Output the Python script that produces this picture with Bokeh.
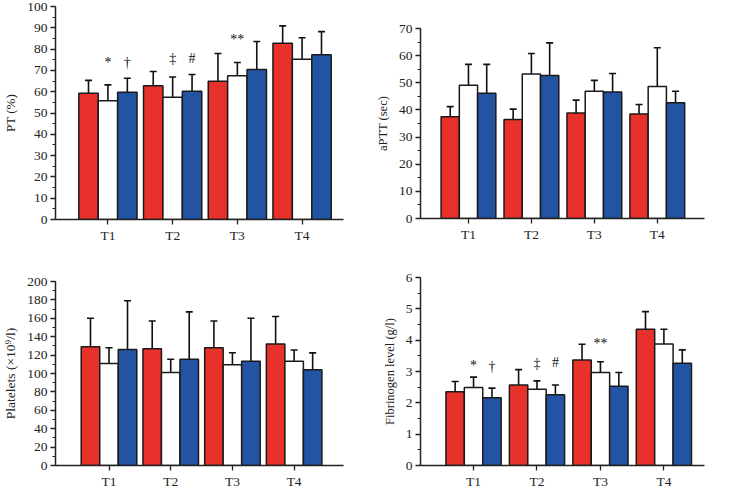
from bokeh.plotting import figure
from bokeh.layouts import column, row
from bokeh.models import (ColumnDataSource, Whisker, TeeHead, SingleIntervalTicker,
                          FixedTicker, Range1d)
from bokeh.embed import file_html
from bokeh.resources import INLINE
from bokeh.core.properties import value

categories = ["T1", "T2", "T3", "T4"]
groups = ["red", "white", "blue"]
colors = {"red": "#E8312B", "white": "#FFFFFF", "blue": "#2354A3"}

# PT (%)
pt_mean = {"red": [59.3, 62.8, 64.9, 82.7], "white": [55.7, 57.4, 67.5, 75.2], "blue": [59.8, 60.2, 70.4, 77.4]}
pt_top = {"red": [65.3, 69.5, 77.9, 90.9], "white": [63.2, 66.9, 73.7, 85.3], "blue": [66.3, 68.1, 83.6, 88.2]}
pt_marks = [("*", 1, 0, 73.5), ("\u2020", 2, 0, 73.5), ("\u2021", 1, 1, 75.5), ("#", 2, 1, 75.5), ("**", 1, 2, 84.5)]

# aPTT (sec)
ap_mean = {"red": [37.5, 36.5, 38.9, 38.5], "white": [49.1, 53.2, 46.9, 48.6], "blue": [46.1, 52.7, 46.6, 42.6]}
ap_top = {"red": [41.2, 40.3, 43.6, 42.0], "white": [56.8, 60.8, 50.9, 62.9], "blue": [56.8, 64.7, 53.4, 46.9]}

# Platelets
pl_mean = {"red": [129, 127, 128, 132], "white": [111, 101, 109.5, 113.4], "blue": [126, 115.5, 113.4, 104]}
pl_top = {"red": [160, 157, 157, 162], "white": [128, 115.5, 122.5, 125.6], "blue": [179, 167, 160, 122.4]}

# Fibrinogen (g/l)
fb_mean = {"red": [2.35, 2.57, 3.37, 4.35], "white": [2.49, 2.43, 2.97, 3.88], "blue": [2.16, 2.26, 2.53, 3.26]}
fb_top = {"red": [2.68, 3.06, 3.87, 4.91], "white": [2.82, 2.70, 3.31, 4.35], "blue": [2.47, 2.57, 2.97, 3.69]}
fb_marks = [("*", 1, 0, 3.18), ("\u2020", 2, 0, 3.15), ("\u2021", 1, 1, 3.24), ("#", 2, 1, 3.3), ("**", 1, 2, 3.88)]

FONT = "Liberation Serif"


def panel(means, tops, ylabel, lsize, ymax, interval, xr, bw, w, h, bl, bt, br, bb, marks=None):
    p = figure(width=w, height=h, x_range=Range1d(*xr), y_range=Range1d(0, ymax),
               output_backend="svg", toolbar_location=None,
               min_border_left=bl, min_border_top=bt, min_border_right=br, min_border_bottom=bb)
    p.outline_line_color = None
    p.xgrid.grid_line_color = None
    p.ygrid.grid_line_color = None
    p.background_fill_color = "white"
    p.border_fill_color = "white"
    for gi, g in enumerate(groups):
        xs = [i + 1 + (gi - 1) * bw for i in range(len(categories))]
        src = ColumnDataSource(dict(x=xs, top=means[g], up=tops[g]))
        wk = Whisker(base="x", lower="top", upper="up", source=src, dimension="height",
                     upper_head=TeeHead(size=7, line_color="#111111", line_width=1.6),
                     lower_head=None, line_color="#111111", line_width=1.6)
        p.add_layout(wk)
        p.vbar(x="x", top="top", width=bw, bottom=0, source=src,
               fill_color=colors[g], line_color="#1a1a1a", line_width=1.5)
    if marks:
        mx = [ci + 1 + (gi - 1) * bw for (_, gi, ci, _) in marks]
        my = [y for (_, _, _, y) in marks]
        mt = [t for (t, _, _, _) in marks]
        p.text(x=mx, y=my, text=mt, text_align="center", text_baseline="middle",
               text_font=value(FONT), text_font_size="14px", text_color="#111111")
    p.yaxis.ticker = SingleIntervalTicker(interval=interval, num_minor_ticks=2)
    p.xaxis.ticker = FixedTicker(ticks=[1, 2, 3, 4])
    p.xaxis.major_label_overrides = {1: "T1", 2: "T2", 3: "T3", 4: "T4"}
    p.yaxis.axis_label = ylabel
    for ax in (p.xaxis[0], p.yaxis[0]):
        ax.axis_line_color = "#222222"
        ax.axis_line_width = 1.5
        ax.major_tick_line_color = "#222222"
        ax.major_tick_line_width = 1.3
        ax.minor_tick_line_color = "#222222"
        ax.major_tick_in = 0
        ax.major_tick_out = 5
        ax.minor_tick_in = 0
        ax.minor_tick_out = 3
        ax.major_label_text_font = FONT
        ax.major_label_text_font_size = "13.5px"
        ax.major_label_text_color = "#222222"
        ax.axis_label_text_font = FONT
        ax.axis_label_text_font_size = lsize
        ax.axis_label_text_font_style = "normal"
        ax.axis_label_text_color = "#222222"
    p.xaxis.minor_tick_out = 0
    p.xaxis.major_label_standoff = 3
    p.yaxis.major_label_standoff = 3
    p.yaxis.axis_label_standoff = 6
    return p


p1 = panel(pt_mean, pt_top, "PT (%)", "13px", 100, 10, (0.19, 4.64), 0.3, 360, 250, 52, 6, 16, 31, pt_marks)
p3 = panel(pl_mean, pl_top, "Platelets (\u00d710\u2079/l)", "13.5px", 200, 20, (0.133, 4.8), 0.3, 360, 241, 52, 31, 17, 23)
p2 = panel(ap_mean, ap_top, "aPTT (sec)", "12.5px", 70, 10, (0.238, 4.75), 0.29, 368, 250, 60, 28, 24, 32)
p4 = panel(fb_mean, fb_top, "Fibrinogen level (g/l)", "12.5px", 6, 1, (0.164, 4.64), 0.29, 368, 241, 60, 27, 8, 23, fb_marks)

layout = row(column(p1, p3), column(p2, p4))
open("out.html", "w").write(file_html(layout, INLINE))
